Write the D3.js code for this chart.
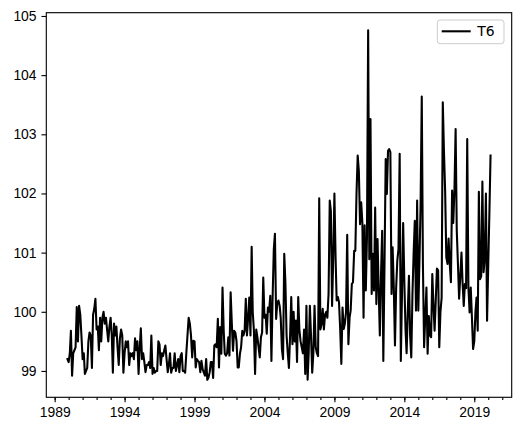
<!DOCTYPE html>
<html>
<head>
<meta charset="utf-8">
<script src="https://cdn.jsdelivr.net/npm/d3@7"></script>
<style>
  body { margin: 0; background: #fff; }
  svg { display: block; font-family: "DejaVu Sans", sans-serif; }
</style>
</head>
<body>
<div id="chart"></div>
<script>
// monthly series, first month Dec 1989
var startMonth = [1989, 11]

var t6 = [
  99.2, 99.15, 99.3, 99.68, 98.92, 99.3, 99.35, 99.4, 100.08, 99.5, 100.1, 99.95,
  99.6, 99.2, 99.3, 98.95, 99.0, 99.05, 99.5, 99.65, 99.6, 99.05, 99.95, 100.05,
  100.22, 99.7, 99.75, 99.35, 99.9, 99.5, 99.9, 100.0, 99.8, 99.9, 99.7, 99.5,
  99.75, 99.9, 99.6, 98.97, 99.8, 99.6, 99.75, 99.4, 99.1, 99.55, 99.7, 99.6,
  98.97, 99.3, 99.5, 99.4, 99.5, 99.1, 99.3, 99.25, 99.3, 99.2, 99.55, 99.35,
  99.5, 98.95, 99.4, 99.72, 99.2, 99.3, 99.15, 98.98, 99.1, 99.1, 99.15, 99.05,
  99.6, 98.95, 99.05, 98.97, 99.0, 99.0, 99.5, 99.45, 99.1, 99.3, 99.25, 99.35,
  99.43, 99.2, 98.98, 99.1, 99.3, 98.97, 99.05, 99.05, 99.3, 99.0, 99.1, 99.2,
  98.98, 99.25, 99.3, 99.0, 99.0, 98.97, 99.3, 99.6, 99.9, 99.8, 99.6, 99.23,
  99.51, 99.5, 99.06, 99.2, 99.17, 99.15, 98.98, 99.17, 99.03, 98.97, 98.92, 99.2,
  98.85, 98.89, 98.98, 99.15, 99.15, 98.88, 99.43, 99.45, 99.4, 99.88, 99.06, 99.74,
  99.29, 100.41, 99.68, 99.29, 99.26, 99.3, 99.57, 99.26, 100.33, 99.8, 99.34, 99.68,
  99.65, 99.51, 99.06, 99.06, 99.29, 99.4, 99.68, 99.6, 99.68, 100.22, 99.6, 99.9,
  100.24, 99.6, 101.1, 100.0, 99.68, 98.95, 99.7, 99.57, 99.4, 99.23, 99.57, 99.65,
  100.58, 99.9, 99.95, 99.63, 100.07, 100.0, 100.27, 99.17, 100.24, 101.05, 101.32, 99.88,
  100.15, 100.19, 100.1, 99.9, 99.37, 99.2, 100.98, 100.5, 99.6, 99.3, 99.05, 99.6,
  100.25, 99.45, 100.0, 99.5, 99.85, 99.15, 100.25, 99.7, 99.5, 99.4, 99.3, 99.7,
  98.95, 100.1, 98.85, 99.3, 100.1, 99.6, 98.97, 99.3, 100.1, 99.4, 99.3, 99.25,
  101.92, 99.7, 99.8, 100.05, 99.7, 99.95, 100.0, 99.9, 100.3, 101.88, 101.7, 100.1,
  100.9, 102.0, 100.9, 100.19, 100.25, 100.16, 99.7, 99.12, 100.07, 99.71, 99.8, 100.0,
  101.3, 99.45, 99.9, 100.02, 100.47, 100.5, 101.03, 101.03, 102.0, 102.64, 102.38, 101.48,
  101.85, 101.5, 99.9, 101.46, 100.36, 101.26, 104.76, 100.89, 103.26, 100.3, 100.98, 100.36,
  101.76, 100.13, 101.23, 100.4, 99.6, 100.6, 101.37, 99.17, 100.8, 102.58, 101.99, 102.72,
  102.75, 102.7, 100.3, 101.09, 100.4, 99.43, 100.4, 100.86, 101.06, 102.67, 99.17, 100.3,
  101.5, 100.5, 99.7, 99.3, 100.0, 100.61, 99.6, 99.23, 100.3, 101.0, 101.54, 100.02,
  101.88, 100.02, 100.9, 101.8, 103.64, 100.8, 99.4, 99.9, 100.41, 99.29, 99.93, 99.6,
  99.57, 100.64, 100.1, 99.68, 100.2, 100.73, 100.7, 99.4, 100.0, 100.24, 103.54, 102.7,
  102.05, 100.92, 100.81, 101.24, 100.81, 100.5, 102.05, 101.5, 102.05, 103.09, 101.37, 100.8,
  100.22, 100.6, 101.0, 100.5, 100.1, 100.47, 100.4, 102.92, 100.41, 99.99, 100.41, 99.9,
  99.37, 99.5, 100.0, 100.24, 99.68, 102.03, 100.55, 100.6, 102.2, 100.67, 100.9, 102.0,
  99.85, 100.8, 101.7, 102.64
]

var yTicks = [99, 100, 101, 102, 103, 104, 105]
var xMajorYears = [1989, 1994, 1999, 2004, 2009, 2014, 2019]
var seriesName = "T6"

var W = 521, H = 431
var margin = {left: 46.3, right: 9.3, top: 12.7, bottom: 33.7}
var pw = W - margin.left - margin.right, ph = H - margin.top - margin.bottom
var pt = 100 / 72

var start = new Date(Date.UTC(startMonth[0], startMonth[1], 1))
var rows = t6.map((v, i) => ({date: d3.utcMonth.offset(start, i), value: v}))

// matplotlib style 5% margins
var pad = (lo, hi) => { var m = (hi - lo) * 0.05; return [lo - m, hi + m] }
var tExt = d3.extent(rows, d => +d.date)
var vExt = d3.extent(rows, d => d.value)

var x = d3.scaleUtc().domain(pad(tExt[0], tExt[1]).map(t => new Date(t))).range([0, pw])
var y = d3.scaleLinear().domain(pad(vExt[0], vExt[1])).range([ph, 0])

var svg = d3.select("#chart").append("svg").attr("width", W).attr("height", H)
var g = svg.append("g").attr("transform", "translate(" + margin.left + "," + margin.top + ")")

var styleAxis = (sel) => {
  sel.select(".domain").remove()
  sel.selectAll("line").attr("stroke", "#000").attr("stroke-width", 0.8 * pt)
  sel.selectAll("text").attr("fill", "#000").style("font-size", "13.9px")
}

// minor yearly ticks
var minorYears = d3.utcYear.range(x.domain()[0], x.domain()[1])
g.append("g").attr("transform", "translate(0," + ph + ")")
  .call(d3.axisBottom(x).tickValues(minorYears).tickSize(2 * pt).tickFormat(""))
  .call(styleAxis)

g.append("g").attr("transform", "translate(0," + ph + ")")
  .call(d3.axisBottom(x)
    .tickValues(xMajorYears.map(yr => new Date(Date.UTC(yr, 0, 1))))
    .tickSize(3.5 * pt).tickPadding(3.5 * pt)
    .tickFormat(d3.utcFormat("%Y")))
  .call(styleAxis)

g.append("g")
  .call(d3.axisLeft(y).tickValues(yTicks).tickSize(3.5 * pt).tickPadding(3.5 * pt).tickFormat(d3.format("d")))
  .call(styleAxis)

var line = d3.line().x(d => x(d.date)).y(d => y(d.value))

g.append("path").datum(rows)
  .attr("fill", "none")
  .attr("stroke", "#000")
  .attr("stroke-width", 1.5 * pt)
  .attr("stroke-linejoin", "round")
  .attr("stroke-linecap", "square")
  .attr("d", line)

g.append("rect")
  .attr("width", pw).attr("height", ph)
  .attr("fill", "none").attr("stroke", "#000").attr("stroke-width", 0.8 * pt)

// legend
var lg = g.append("g").attr("transform", "translate(" + (pw - 74.4) + ",7.3)")
lg.append("rect")
  .attr("width", 66.7).attr("height", 23.7).attr("rx", 2.8)
  .attr("fill", "#fff").attr("fill-opacity", 0.8)
  .attr("stroke", "#cccccc").attr("stroke-width", 1)
lg.append("line")
  .attr("x1", 4.4).attr("x2", 33.4).attr("y1", 11.3).attr("y2", 11.3)
  .attr("stroke", "#000").attr("stroke-width", 1.5 * pt)
lg.append("text")
  .attr("x", 40).attr("y", 11.3).attr("dy", "0.36em")
  .style("font-size", "13.9px").attr("fill", "#000")
  .text(seriesName)
</script>
</body>
</html>
